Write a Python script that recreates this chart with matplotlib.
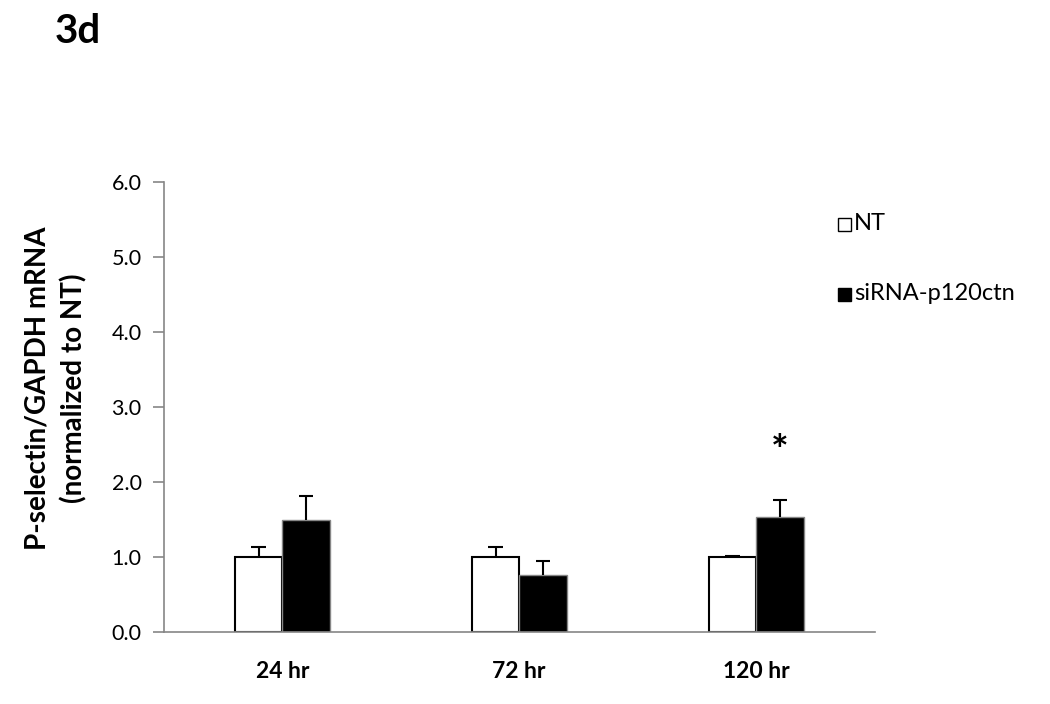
import matplotlib.pyplot as plt
import numpy as np
from matplotlib.patches import Rectangle

plt.rcParams["font.family"] = ["Lato", "DejaVu Sans"]

categories = ["24 hr", "72 hr", "120 hr"]
nt_mean = [1.00, 1.00, 1.00]
nt_err = [0.13, 0.13, 0.02]
si_mean = [1.49, 0.76, 1.53]
si_err = [0.32, 0.19, 0.23]
significant = [False, False, True]
star_y = 2.38

AXIS_GREY = "#868686"

fig = plt.figure(figsize=(10.5, 7.04), dpi=100)
ax = fig.add_axes([0.156, 0.102, 0.677, 0.640])

x = np.arange(len(categories))
w = 0.2
ax.bar(x - w / 2, nt_mean, w, color="white", edgecolor="black", lw=1.5, zorder=2)
ax.bar(x + w / 2, si_mean, w, color="black", edgecolor=AXIS_GREY, lw=1, zorder=2)

# upper-only error bars (stem + cap)
cap = 0.03
for xs, m, e in [(x - w / 2, nt_mean, nt_err), (x + w / 2, si_mean, si_err)]:
    m = np.array(m)
    e = np.array(e)
    ax.vlines(xs, m, m + e, color="black", lw=1.5, zorder=3)
    ax.hlines(m + e, xs - cap, xs + cap, color="black", lw=1.5, zorder=3)

for i, sig in enumerate(significant):
    if sig:
        ax.text(x[i] + w / 2, star_y, "*", ha="center", va="center", fontsize=30, fontweight="bold")

ax.set_xlim(-0.5, 2.5)
ax.set_ylim(0, 6)
ax.set_yticks(np.arange(0, 6.01, 1.0))
ax.set_yticklabels([f"{v:.1f}" for v in np.arange(0, 6.01, 1.0)], fontsize=15.5)
ax.set_xticks(x)
ax.set_xticklabels(categories, fontsize=16.5, fontweight="bold")
ax.tick_params(axis="x", length=0, pad=21)
ax.tick_params(axis="y", length=8, color=AXIS_GREY, width=1.2, pad=8)
for s in ["top", "right"]:
    ax.spines[s].set_visible(False)
for s in ["left", "bottom"]:
    ax.spines[s].set_color(AXIS_GREY)
    ax.spines[s].set_linewidth(1.2)

ax.set_ylabel("P-selectin/GAPDH mRNA\n(normalized to NT)", fontsize=20, fontweight="bold",
              linespacing=1.45)
ax.yaxis.set_label_coords(-0.107, 0.542)

# legend drawn as figure patches + text
for (yy, fc, lab) in [(0.683, "white", "NT"), (0.583, "black", "siRNA-p120ctn")]:
    fig.patches.append(Rectangle((0.7985, yy - 0.011), 0.0124, 0.0185, transform=fig.transFigure,
                                 facecolor=fc, edgecolor="black", lw=1))
    fig.text(0.8135, yy, lab, fontsize=17, va="center", ha="left")

fig.text(0.052, 0.955, "3d", fontsize=29, fontweight="bold", va="center", ha="left")

fig.savefig("out.png", dpi=100)
